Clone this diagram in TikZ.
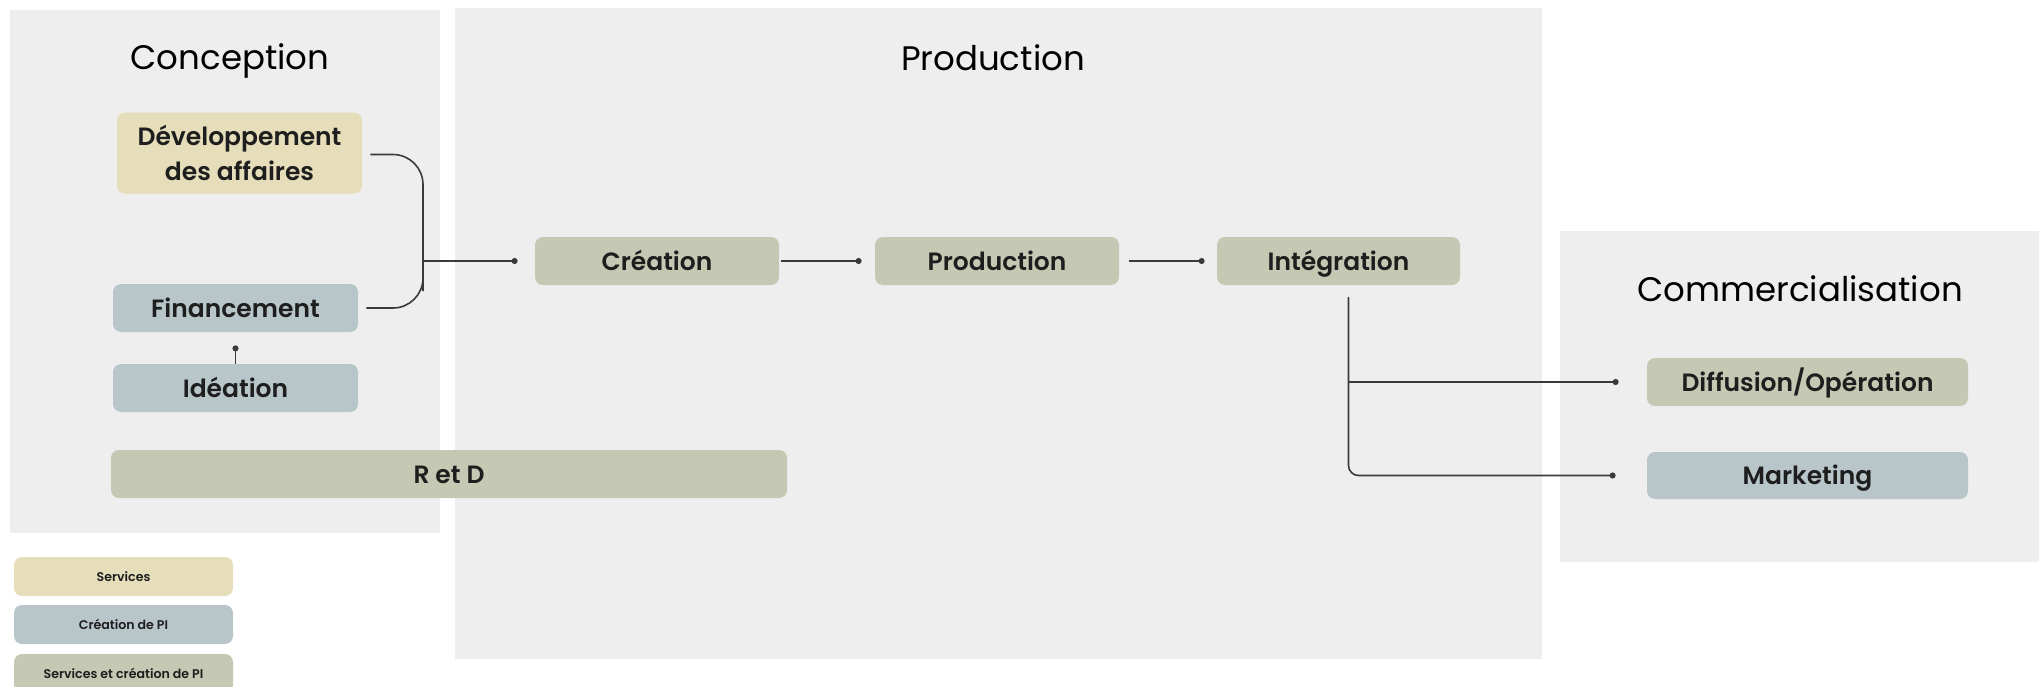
\documentclass[tikz,border=0pt]{standalone}
\usepackage{fontspec}
\setmainfont{Poppins}[BoldFont={Poppins SemiBold}]
\usetikzlibrary{arrows.meta}
\definecolor{panelgray}{HTML}{EEEEEE}
\definecolor{beige}{HTML}{E6DEBA}
\definecolor{bluegray}{HTML}{B8C6CA}
\definecolor{greengray}{HTML}{C5C9B3}
\definecolor{linegray}{HTML}{3A3A3A}
\definecolor{txt}{HTML}{1E1E1E}
\tikzset{
  panel/.style={fill=panelgray, draw=none},
  title/.style={font=\fontsize{17}{20}\selectfont, text=black},
  box/.style={rounded corners=4pt, draw=none, text=txt, align=center, inner sep=0pt,
    font=\bfseries\fontsize{12.5}{17.5}\selectfont},
  onebox/.style={box, text height=9.5pt, text depth=0.5pt, minimum height=24pt},
  legbox/.style={rounded corners=4pt, draw=none, text=txt, align=center, inner sep=0pt,
    minimum width=109.5pt, minimum height=19.5pt, text height=5.5pt, text depth=0.5pt,
    font=\bfseries\fontsize{6.3}{8}\selectfont},
  conn/.style={draw=linegray, line width=0.8pt, -{Circle[length=3pt]}},
  plain/.style={draw=linegray, line width=0.8pt},
}
\begin{document}
\begin{tikzpicture}[x=0.5pt, y=-0.5pt]
\useasboundingbox (0,0) rectangle (2039,686);
\clip (0,0) rectangle (2039,686);
% panels
\fill[panel] (10,10) rectangle (440,533);
\fill[panel] (455,8) rectangle (1542,659);
\fill[panel] (1560,231) rectangle (2039,562);
% titles
\node[title] (tconc) at (230,61) {Conception};
\node[title] (tprod) at (993,58) {Production};
\node[title] (tcomm) at (1800,289) {Commercialisation};
% boxes
\node[box, fill=beige, minimum width=122.5pt, minimum height=40.5pt] (dev) at (239.5,153) {Développement\\des affaires};
\node[onebox, fill=bluegray, minimum width=122.5pt] (fin) at (235.5,308) {Financement};
\node[onebox, fill=bluegray, minimum width=122.5pt] (ide) at (235.5,388) {Idéation};
\node[onebox, fill=greengray, minimum width=338pt] (rd) at (449,474) {R et D};
\node[onebox, fill=greengray, minimum width=122pt] (crea) at (657,261) {Création};
\node[onebox, fill=greengray, minimum width=122pt] (prod) at (997,261) {Production};
\node[onebox, fill=greengray, minimum width=121.5pt] (integ) at (1338.5,261) {Intégration};
\node[onebox, fill=greengray, minimum width=160.5pt] (diff) at (1807.5,382) {Diffusion/Opération};
\node[onebox, fill=bluegray, minimum width=160.5pt, minimum height=23.5pt] (mark) at (1807.5,475.5) {Marketing};
% legend
\node[legbox, fill=beige] (lserv) at (123.5,576.5) {Services};
\node[legbox, fill=bluegray] (lcpi) at (123.5,624.5) {Création de PI};
\node[legbox, fill=greengray] (lscpi) at (123.5,673.5) {Services et création de PI};
% connectors
\coordinate (br) at (423,261);
\draw[plain, rounded corners=15pt] ([xshift=4pt,yshift=-0.75pt]dev.east) -| (br) |- ([xshift=4pt]fin.east);
\draw[conn] (br) -- ([xshift=-8.5pt]crea.west);
\draw[conn] (ide.north) -- ([yshift=-6.5pt]fin.south);
\draw[conn] ([xshift=1pt]crea.east) -- ([xshift=-6.5pt]prod.west);
\draw[conn] ([xshift=5pt]prod.east) -- ([xshift=-6pt]integ.west);
\coordinate (it) at ([xshift=5pt,yshift=-6pt]integ.south);
\draw[conn] (it) |- ([xshift=-14pt]diff.west);
\draw[conn, rounded corners=5pt] (it) |- ([xshift=-15.5pt]mark.west);
\end{tikzpicture}
\end{document}
